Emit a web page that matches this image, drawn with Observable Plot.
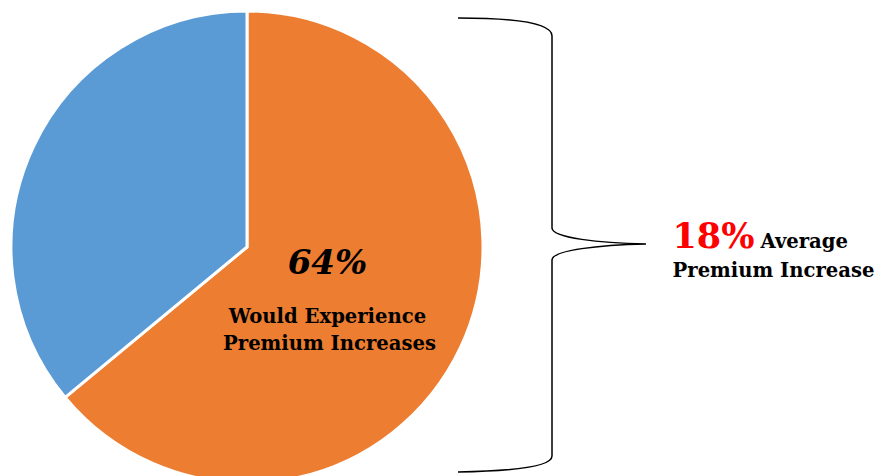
<!DOCTYPE html>
<html>
<head>
<meta charset="utf-8">
<script src="https://cdn.jsdelivr.net/npm/d3@7"></script>
<script src="https://cdn.jsdelivr.net/npm/@observablehq/plot@0.6"></script>
<style>
  html, body { margin: 0; padding: 0; background: #fff; }
  #chart svg { display: block; }
</style>
</head>
<body>
<div id="chart"></div>
<script>
// ---- data ----
const categories = ["Would Experience Premium Increases", "Would Not Experience Increases"];
const shares = [64, 36];
const sliceColors = ["#ED7D31", "#5B9BD5"];
const avgIncrease = 18;

// ---- layout (pixel frame) ----
const W = 877, H = 476;
const CX = 247, CY = 247, R = 236;
const FONT = "'DejaVu Serif', 'Liberation Serif', serif";

function pieMark(index, scales) {
  const cx = scales.x(CX), cy = scales.y(CY), r = scales.x(CX + R) - cx;
  const arcs = d3.pie().sort(null).startAngle(0)(shares);
  const g = d3.create("svg:g").attr("transform", `translate(${cx},${cy})`);
  g.selectAll("path").data(arcs).join("path")
    .attr("d", d3.arc().innerRadius(0).outerRadius(r))
    .attr("fill", (d, i) => sliceColors[i])
    .attr("stroke", "white").attr("stroke-width", 3).attr("stroke-linejoin", "round");
  return g.node();
}

function braceMark(index, scales) {
  const x = scales.x, y = scales.y;
  const p = d3.path();
  p.moveTo(x(458), y(18));
  p.bezierCurveTo(x(520), y(18), x(552), y(24), x(552), y(36));
  p.lineTo(x(552), y(228));
  p.bezierCurveTo(x(552), y(238), x(600), y(243), x(646), y(244));
  p.bezierCurveTo(x(600), y(245), x(552), y(250), x(552), y(260));
  p.lineTo(x(552), y(456));
  p.bezierCurveTo(x(552), y(466), x(520), y(471), x(458), y(472));
  return d3.create("svg:path").attr("d", p.toString())
    .attr("fill", "none").attr("stroke", "#000").attr("stroke-width", 1.5).node();
}

const chart = Plot.plot({
  width: W, height: H,
  margin: 0,
  x: { domain: [0, W], range: [0, W], axis: null },
  y: { domain: [0, H], range: [0, H], axis: null },
  style: { background: "white", fontFamily: FONT },
  marks: [
    pieMark,
    braceMark,
    Plot.text([`${shares[0]}%`], { x: () => 327, y: () => 263, text: d => d, fontSize: 34, fontWeight: "bold", fontStyle: "italic", fill: "#000" }),
    Plot.text(["Would Experience"], { x: () => 327, y: () => 316, text: d => d, fontSize: 19.6, fontWeight: "bold", fill: "#000" }),
    Plot.text(["Premium Increases"], { x: () => 329, y: () => 343, text: d => d, fontSize: 19.6, fontWeight: "bold", fill: "#000" }),
    Plot.text([`${avgIncrease}%`], { x: () => 672, y: () => 236, text: d => d, textAnchor: "start", fontSize: 35, fontWeight: "bold", fill: "#FF0000" }),
    Plot.text(["Average"], { x: () => 760, y: () => 241, text: d => d, textAnchor: "start", fontSize: 19.6, fontWeight: "bold", fill: "#000" }),
    Plot.text(["Premium Increase"], { x: () => 773, y: () => 270, text: d => d, fontSize: 19.6, fontWeight: "bold", fill: "#000" })
  ]
});
document.getElementById("chart").appendChild(chart);
</script>
</body>
</html>
